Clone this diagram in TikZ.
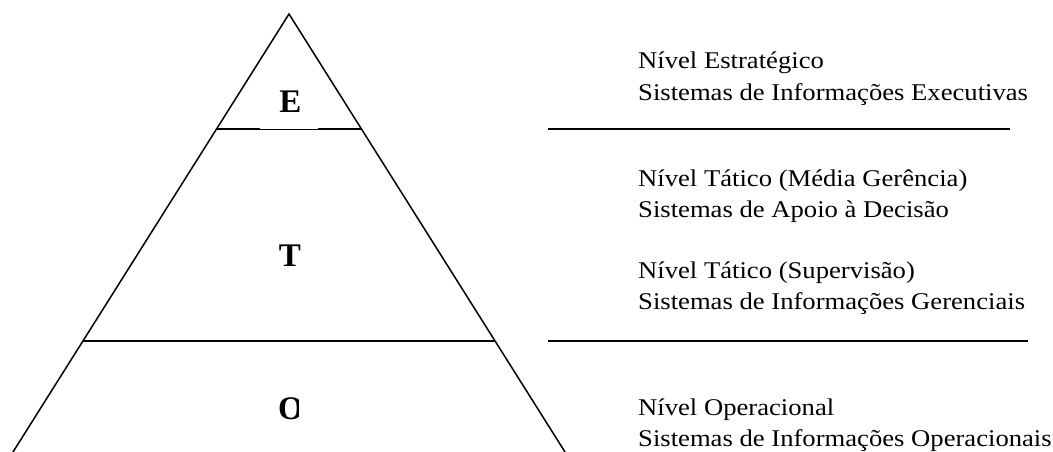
\documentclass[tikz,border=0pt]{standalone}
\usepackage{fontspec}
\setmainfont{Liberation Serif}
\newfontfamily\descfont[FakeStretch=1.11]{Liberation Serif}
\begin{document}
\begin{tikzpicture}[x=1pt,y=-1pt,
  edge/.style={draw=black,line width=2pt},
  thinedge/.style={draw=black,line width=1pt},
  levelletter/.style={font=\fontsize{33}{33}\selectfont\bfseries,inner sep=0pt},
  desc/.style={font=\descfont\fontsize{24}{31}\selectfont,anchor=base west,inner sep=0pt}]
\useasboundingbox (0,0) rectangle (1053,452);
% pyramid outline
\coordinate (apex) at (289,14);
\coordinate (bl) at (13,452);
\coordinate (br) at (565,452);
\draw[line width=1.5pt] (bl) -- (apex) -- (br);
% divisions inside the pyramid
\coordinate (e1) at (216,129);
\coordinate (e2) at (260,129);
\coordinate (e3) at (318,129);
\coordinate (e4) at (362,129);
\draw[edge] (e1) -- (e2);
\draw[thinedge] (e2) -- (e3);
\draw[edge] (e3) -- (e4);
\coordinate (t1) at (83,341);
\coordinate (t2) at (495,341);
\draw[edge] (t1) -- (t2);
% separators on the right
\coordinate (r1a) at (548,129);
\coordinate (r1b) at (1010,129);
\coordinate (r2a) at (548,341);
\coordinate (r2b) at (1028,341);
\draw[edge] (r1a) -- (r1b);
\draw[edge] (r2a) -- (r2b);
% level letters
\node[levelletter] (E) at (290.5,102) {E};
\node[levelletter] (T) at (290,256) {T};
\begin{scope}
  \clip (270,390) rectangle (298,430);
  \node[levelletter] (O) at (291,409) {O};
\end{scope}
% descriptions
\node[desc] (d1a) at (638,69) {Nível Estratégico};
\node[desc] (d1b) at (638,100) {Sistemas de Informações Executivas};
\node[desc] (d2a) at (638,186) {Nível Tático (Média Gerência)};
\node[desc] (d2b) at (638,217) {Sistemas de Apoio à Decisão};
\node[desc] (d3a) at (638,278) {Nível Tático (Supervisão)};
\node[desc] (d3b) at (638,309) {Sistemas de Informações Gerenciais};
\node[desc] (d4a) at (638,415) {Nível Operacional};
\node[desc] (d4b) at (638,446) {Sistemas de Informações Operacionais};
\end{tikzpicture}
\end{document}
